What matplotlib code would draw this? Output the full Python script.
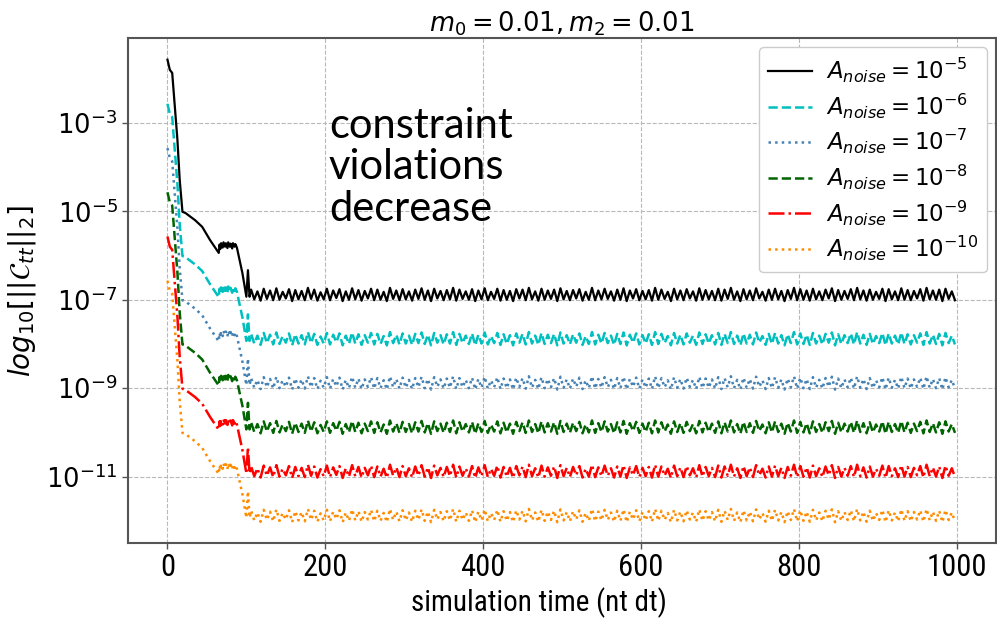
import numpy as np
import matplotlib
matplotlib.use("Agg")
import matplotlib.pyplot as plt
from matplotlib import font_manager as fm

# ---------------- data ----------------
# transient of the A_noise = 1e-5 run: time and log10 of constraint norm
t_transient = [0, 3, 6, 12.6, 15.5, 19, 23, 35, 44, 54, 65,
               66, 67, 68, 70, 71, 73, 74, 76, 77, 79, 80, 82, 83, 85, 86, 88,
               95, 100, 102, 104]
log_transient = [-1.57, -1.80, -1.87, -3.38, -4.29, -5.01, -5.04, -5.20, -5.35, -5.65, -5.94,
                 -5.75, -5.85, -5.72, -5.82, -5.70, -5.80, -5.72, -5.83, -5.70, -5.80, -5.73,
                 -5.84, -5.72, -5.80, -5.74, -5.82,
                 -6.40, -6.93, -6.33, -6.93]

# plateau (t = 106 ... 1000, every 4 steps): level and fluctuation (1/100 decade)
plateau_start, plateau_step = 106, 4
plateau_level = -6.89
plateau_fluct = [
    12, -10, 8, -13, 14, -9, 10, -12, 15, -11, 7, -8, 13, -14, 11, -10,
    9, -12, 16, -9, 12, -13, 6, -10, 14, -12, 10, -7, 13, -14, 8, -11,
    15, -10, 11, -13, 9, -8, 14, -12, 12, -11, 7, -14, 16, -9, 10, -12,
    13, -10, 8, -13, 12, -9, 15, -11, 10, -14, 14, -8, 9, -12, 11, -10,
    16, -13, 12, -9, 8, -11, 13, -14, 10, -10, 15, -12, 7, -9, 14, -13,
    11, -11, 9, -14, 13, -8, 12, -12, 16, -10, 8, -13, 14, -11, 10, -9,
    12, -14, 15, -10, 9, -12, 11, -8, 13, -13, 7, -11, 16, -12, 10, -10,
    14, -9, 8, -13, 12, -11, 15, -14, 10, -8, 13, -12, 9, -10, 11, -13,
    16, -11, 12, -9, 7, -14, 14, -10, 10, -12, 13, -8, 8, -13, 15, -11,
    11, -10, 9, -12, 14, -13, 12, -9, 16, -11, 8, -14, 13, -10, 10, -12,
    15, -8, 7, -13, 12, -11, 14, -10, 9, -14, 11, -9, 16, -12, 13, -11,
    10, -13, 14, -10, 8, -12, 12, -8, 15, -14, 11, -11, 9, -9, 13, -12,
    16, -10, 10, -13, 12, -11, 7, -9, 14, -14, 13, -10, 8, -12, 15, -11,
    11, -12, 9, -8, 13, -13, 16, -10, 10, -11, 12, -14, 14, -9, 8, -12,
]

# noise amplitude exponents; curves shift by one decade per step of A_noise
noise_exponents = [-5, -6, -7, -8, -9, -10]
decade_shift = [0, -1, -2, -3, -4, -5]

colors = ["black", "c", "steelblue", "darkgreen", "red", "darkorange"]
styles = ["-", "--", ":", "--", "-.", ":"]

yticks = [1e-3, 1e-5, 1e-7, 1e-9, 1e-11]
ytick_labels = [r"$10^{-3}$", r"$10^{-5}$", r"$10^{-7}$", r"$10^{-9}$", r"$10^{-11}$"]
xticks = [0, 200, 400, 600, 800, 1000]

# ---------------- fonts ----------------
avail = {f.name for f in fm.fontManager.ttflist}
narrow = "DejaVu Sans"
for cand in ["Roboto Condensed", "Liberation Sans Narrow", "Lato"]:
    if cand in avail:
        narrow = cand
        break

# ---------------- figure ----------------
fig = plt.figure(figsize=(9.97, 6.2), dpi=100)
ax = fig.add_axes([0.1284, 0.1242, 0.8706, 0.8145])

t_plateau = plateau_start + plateau_step * np.arange(len(plateau_fluct))
base_t = np.concatenate([t_transient, t_plateau])
base_log = np.concatenate([log_transient, plateau_level + np.array(plateau_fluct) / 100.0])

for e, s, c, ls in zip(noise_exponents, decade_shift, colors, styles):
    lw = 1.6 if ls == "-" else 1.8
    ax.plot(base_t, 10.0 ** (base_log + s), color=c, ls=ls, lw=lw,
            label=r"$A_{noise}=10^{%d}$" % e)

ax.set_yscale("log")
ax.set_xlim(-50, 1050)
ax.set_ylim(10 ** -12.5, 10 ** -1.08)
ax.set_yticks(yticks)
ax.set_yticklabels(ytick_labels)
ax.yaxis.set_minor_locator(matplotlib.ticker.NullLocator())
ax.set_xticks(xticks)
ax.set_xticklabels([str(v) for v in xticks], fontfamily=narrow, fontsize=22)
ax.tick_params(axis="y", labelsize=18.5)
ax.tick_params(colors="#555555", labelcolor="black", length=4, width=1)

ax.grid(True, ls="--", color="#b8b8b8", lw=0.8)
for sp in ax.spines.values():
    sp.set_color("#555555")
    sp.set_linewidth(1.5)

ax.set_title(r"$m_0=0.01, m_2=0.01$", fontsize=18.5, pad=5)
ax.set_ylabel(r"$log_{10}[||\mathcal{C}_{tt}||_2]$", fontsize=20, labelpad=6)
ax.set_xlabel("simulation time (nt dt)", fontfamily=narrow, fontsize=21)
ax.xaxis.set_label_coords((539 - 128) / 869.0, -(603 - 543) / 505.0)
ax.xaxis.label.set_va("center")

leg = ax.legend(loc="upper right", fontsize=16.5, framealpha=1.0, edgecolor="#cccccc",
                handlelength=1.9, handletextpad=0.6, labelspacing=0.28, borderaxespad=0.4)

fig.text(0.33, 0.828, "constraint\nviolations\ndecrease", family=["Lato", "DejaVu Sans"],
         fontsize=30, va="top", ha="left", linespacing=1.12)

fig.savefig("out.png", dpi=100)
